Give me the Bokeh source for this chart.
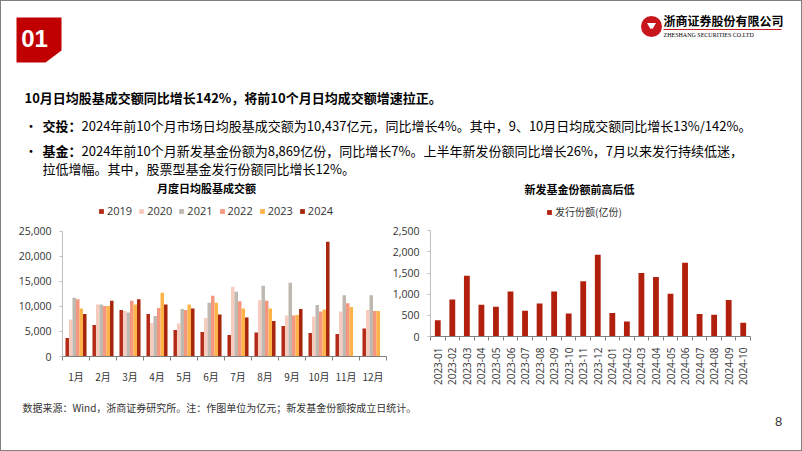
import math
import numpy as np
from bokeh.plotting import figure
from bokeh.models import (Range1d, Label, Legend, LegendItem, FixedTicker,
                          NumeralTickFormatter, ColumnDataSource)
from bokeh.layouts import column, row
from bokeh.embed import file_html
from bokeh.resources import INLINE
from bokeh.core.properties import value

CJK = "Noto Sans CJK SC"
NUM = "Open Sans"

# ---------------- data ----------------
months = ["1月", "2月", "3月", "4月", "5月", "6月", "7月", "8月", "9月", "10月", "11月", "12月"]
years = ["2019", "2020", "2021", "2022", "2023", "2024"]
v2019 = [3700, 6300, 9300, 8500, 5300, 4900, 4300, 4800, 6100, 4700, 4500, 5600]
v2020 = [7400, 10400, 9100, 6700, 6600, 7700, 13900, 11200, 8200, 8000, 9000, 9300]
v2021 = [11700, 10400, 8800, 8100, 9500, 10700, 12900, 14100, 14700, 10300, 12200, 12200]
v2022 = [11400, 10100, 11100, 9700, 9300, 12100, 11000, 11100, 8200, 9000, 10600, 9100]
v2023 = [9600, 10100, 10400, 12700, 10400, 10700, 9600, 9600, 8300, 9400, 9900, 9100]
v2024 = [8500, 11100, 11400, 10400, 9600, 8400, 7800, 7100, 9500, 22900]
year_colors = ["#B32A17", "#F8CBBF", "#BFB8B1", "#F4977E", "#FDB347", "#A8250D"]
left_yticks = [0, 5000, 10000, 15000, 20000, 25000]

fund_months = ["2023-01", "2023-02", "2023-03", "2023-04", "2023-05", "2023-06",
               "2023-07", "2023-08", "2023-09", "2023-10", "2023-11", "2023-12",
               "2024-01", "2024-02", "2024-03", "2024-04", "2024-05", "2024-06",
               "2024-07", "2024-08", "2024-09", "2024-10"]
fund_issue = [386, 875, 1435, 749, 702, 1065, 607, 781, 1065, 544, 1309, 1932,
              553, 355, 1500, 1405, 1010, 1743, 530, 513, 861, 324]
fund_color = "#B0200C"
right_yticks = [0, 500, 1000, 1500, 2000, 2500]

headline = "10月日均股基成交额同比增长142%，将前10个月日均成交额增速拉正。"
b1_head = "交投："
b1_text = "2024年前10个月市场日均股基成交额为10,437亿元，同比增长4%。其中，9、10月日均成交额同比增长13%/142%。"
b2_head = "基金："
b2_text1 = "2024年前10个月新发基金份额为8,869亿份，同比增长7%。上半年新发份额同比增长26%，7月以来发行持续低迷，"
b2_text2 = "拉低增幅。其中，股票型基金发行份额同比增长12%。"
left_title = "月度日均股基成交额"
right_title = "新发基金份额前高后低"
right_series = "发行份额(亿份)"
footnote = "数据来源：Wind，浙商证券研究所。注：作图单位为亿元；新发基金份额按成立日统计。"
page_no = "8"


def blank(w, h, y0, y1):
    p = figure(width=w, height=h, x_range=Range1d(1, 1 + w), y_range=Range1d(y1, y0),
               output_backend="svg", toolbar_location=None, min_border=0,
               x_axis_type=None, y_axis_type=None)
    p.outline_line_color = None
    p.background_fill_color = "white"
    p.border_fill_color = "white"
    p.frame_align = False
    return p


def lab(p, x, y, text, size, font=CJK, bold=False, color="#000000", align="left",
        baseline="middle", units="data"):
    p.add_layout(Label(x=x, y=y, text=text, text_font=font, text_font_size=f"{size}px",
                       text_font_style="bold" if bold else "normal", text_color=color,
                       text_align=align, text_baseline=baseline,
                       x_units=units, y_units=units))


def style_axes(p, yticks):
    p.xaxis.major_tick_line_color = None
    p.xaxis.minor_tick_line_color = "#7F7F7F"
    p.xaxis.minor_tick_in = 0
    p.xaxis.minor_tick_out = 4
    p.xaxis.axis_line_color = "#7F7F7F"
    p.xaxis.major_label_text_color = "#333333"
    p.xaxis.major_label_text_font_size = "10px"
    p.yaxis.ticker = FixedTicker(ticks=yticks)
    p.yaxis.bounds = (yticks[0], yticks[-1])
    p.yaxis.formatter = NumeralTickFormatter(format="0,0")
    p.yaxis.axis_line_color = "#BFBFBF"
    p.yaxis.major_tick_line_color = "#BFBFBF"
    p.yaxis.major_tick_in = 0
    p.yaxis.major_tick_out = 3
    p.yaxis.minor_tick_line_color = None
    p.yaxis.major_label_standoff = 8
    p.yaxis.major_label_text_font = NUM
    p.yaxis.major_label_text_font_size = "10.5px"
    p.yaxis.major_label_text_color = "#333333"


# ---------------- header ----------------
hd = blank(800, 178, 1, 179)
hd.patch([16, 61, 61, 45, 16], [17, 17, 50, 62, 62], fill_color="#C00000", line_color=None)
lab(hd, 34, 38, "01", 24, font="Liberation Sans", bold=True, color="white", align="center")
hd.scatter([651], [26], size=21, fill_color="#C8161D", line_color=None)
hd.scatter([651], [25], size=9, marker="inverted_triangle", fill_color="white", line_color=None)
hd.scatter([651], [30], size=4, fill_color="#C8161D", line_color=None)
lab(hd, 663, 20, "浙商证券股份有限公司", 12, bold=True)
hd.line([663, 781], [29, 29], line_color="#C8161D", line_width=1)
lab(hd, 663, 34, "ZHESHANG SECURITIES CO.LTD", 6, font="Liberation Serif")
lab(hd, 24, 97, headline, 13, bold=True)
lab(hd, 24, 125, "•", 13)
lab(hd, 42, 125, b1_head, 13, bold=True)
lab(hd, 81, 125, b1_text, 13)
lab(hd, 24, 150, "•", 13)
lab(hd, 42, 150, b2_head, 13, bold=True)
lab(hd, 81, 150, b2_text1, 13)
lab(hd, 42, 168, b2_text2, 13)

# ---------------- left chart ----------------
# frame spans from the top of the figure so that title and legend live inside it;
# the value axis keeps its 0..25,000 scale (25,000 sits 125 px above the baseline)
L_H, L_TOP, L_BOT = 211, 0, 34
l_frame = L_H - L_TOP - L_BOT
l_ymax = left_yticks[-1] * l_frame / 125.3
pl = figure(width=388, height=L_H, x_range=Range1d(0, 12), y_range=Range1d(0, l_ymax),
            output_backend="svg", toolbar_location=None,
            min_border_left=61, min_border_right=3, min_border_top=L_TOP, min_border_bottom=L_BOT)
pl.frame_align = False
pl.outline_line_color = None
pl.grid.visible = False
series = [v2019, v2020, v2021, v2022, v2023, v2024]
bw = 0.13
items = []
for k, (yr, vals, col) in enumerate(zip(years, series, year_colors)):
    xs = np.arange(len(vals)) + 0.5 + (k - 2.5) * bw
    src = ColumnDataSource(dict(x=xs, top=vals))
    r = pl.vbar(x="x", top="top", width=bw, source=src, fill_color=col, line_color=None)
    items.append(LegendItem(label=yr, renderers=[r]))
leg = Legend(items=items, orientation="horizontal", location=(36, 138),
             glyph_width=6, glyph_height=6, label_standoff=3, spacing=6,
             padding=0, margin=0, border_line_color=None, background_fill_alpha=0,
             label_text_font=NUM, label_text_font_size="11px", label_text_color="#333333")
pl.add_layout(leg, "center")
lab(pl, 144, 169, left_title, 11, bold=True, align="center", units="screen")

xc = [i + 0.5 for i in range(12)]
pl.xaxis.ticker = FixedTicker(ticks=xc, minor_ticks=list(range(13)))
pl.xaxis.major_label_overrides = {x: m for x, m in zip(xc, months)}
pl.xaxis.major_label_standoff = 6
pl.xaxis.major_label_text_font = CJK
style_axes(pl, left_yticks)

# ---------------- right chart ----------------
n = len(fund_months)
R_H, R_TOP, R_BOT = 211, 0, 54
r_frame = R_H - R_TOP - R_BOT
r_ymax = right_yticks[-1] * r_frame / 105.7
pr = figure(width=412, height=R_H, x_range=Range1d(0, n), y_range=Range1d(0, r_ymax),
            output_backend="svg", toolbar_location=None,
            min_border_left=33, min_border_right=51, min_border_top=R_TOP, min_border_bottom=R_BOT)
pr.frame_align = False
pr.outline_line_color = None
pr.grid.visible = False
fx = [i + 0.5 for i in range(n)]
rsrc = ColumnDataSource(dict(x=fx, top=fund_issue))
rr = pr.vbar(x="x", top="top", width=0.4, source=rsrc, fill_color=fund_color, line_color=None)
leg2 = Legend(items=[LegendItem(label=right_series, renderers=[rr])], orientation="horizontal",
              location=(116, 117), glyph_width=6, glyph_height=6, label_standoff=3,
              padding=0, margin=0, border_line_color=None, background_fill_alpha=0,
              label_text_font=CJK, label_text_font_size="10px", label_text_color="#333333")
pr.add_layout(leg2, "center")
lab(pr, 149, 148, right_title, 11, bold=True, align="center", units="screen")

pr.xaxis.ticker = FixedTicker(ticks=fx, minor_ticks=list(range(n + 1)))
pr.xaxis.major_label_overrides = {x: m for x, m in zip(fx, fund_months)}
pr.xaxis.major_label_orientation = math.pi / 2
pr.xaxis.major_label_standoff = 5
pr.xaxis.major_label_text_font = NUM
style_axes(pr, right_yticks)

# ---------------- footer ----------------
ft = blank(800, 60, 390, 450)
lab(ft, 22, 407, footnote, 10, color="#333333")
lab(ft, 778, 421, page_no, 13, font="Liberation Sans", color="#333333", align="center")

layout = column(hd, row(pl, pr, spacing=0), ft, spacing=0,
                styles={"border": "1px solid #808080"})

open("out.html", "w").write(file_html(layout, INLINE))
